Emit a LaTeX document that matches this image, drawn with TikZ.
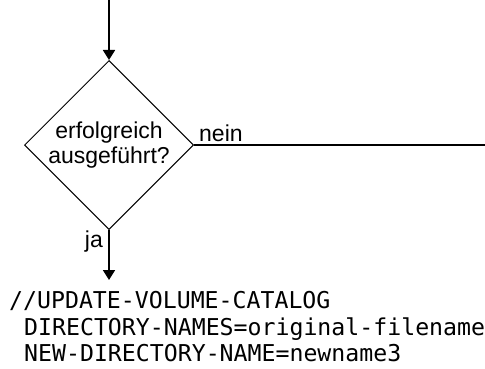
\documentclass[tikz,border=0pt]{standalone}
\usepackage{fontspec}
\setmainfont{Liberation Sans}
\setmonofont{DejaVu Sans Mono}
\usepackage{tikz}
\usetikzlibrary{shapes}
\usetikzlibrary{arrows.meta}
\tikzset{ cond_box/.style = {diamond, draw, line width=1pt, align=center, inner sep=-1pt, minimum width=169pt, minimum height=169pt, font=\fontsize{23}{25.5}\selectfont} }
\tikzset{ flow_line/.style = {line width=1.8pt} }
\tikzset{ flow/.style = {flow_line, -{Triangle[length=10pt,width=12pt]}} }
\tikzset{ edge_lbl/.style = {font=\fontsize{23}{25.5}\selectfont, inner sep=0pt} }
\tikzset{ cmd_text/.style = {font=\ttfamily\fontsize{23.2}{26.7}\selectfont, inner sep=0pt, anchor=base west} }

\begin{document}
\begin{tikzpicture}[x=1pt,y=-1pt]
\useasboundingbox (0,0) rectangle (485,369);
\node[cond_box] (check) at (109,145) {erfolgreich\\ausgeführt?};
\coordinate (start) at (109,0);
\coordinate (nein_end) at (485,145);
\coordinate (ja_end) at (109,280);
\node[edge_lbl, anchor=base west] (nein) at (199,141.5) {nein};
\node[edge_lbl, anchor=base east] (ja) at (103,247) {ja};
\node[cmd_text] (cmd_head) at (9,308.3) {//UPDATE-VOLUME-CATALOG};
\node[cmd_text] (cmd_dir) at (24,335) {DIRECTORY-NAMES=original-filename};
\node[cmd_text] (cmd_new) at (24,361.7) {NEW-DIRECTORY-NAME=newname3};
\draw[flow] (start) -- (check.north);
\draw[flow_line] (check.east) -- (nein_end);
\draw[flow] (check.south) -- (ja_end);
\end{tikzpicture}
\end{document}
